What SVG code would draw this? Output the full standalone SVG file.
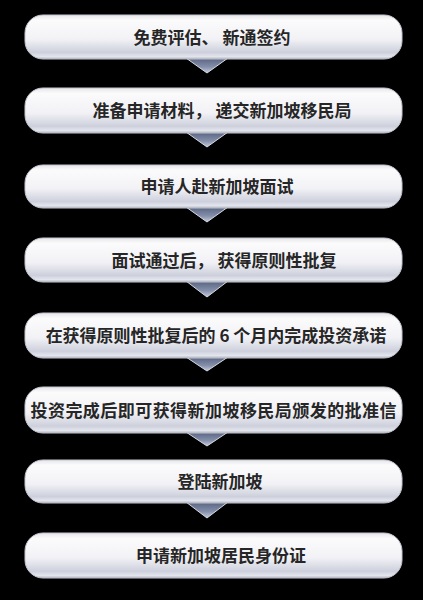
<svg xmlns="http://www.w3.org/2000/svg" width="423" height="600" viewBox="0 0 423 600">
<defs>
<linearGradient id="boxg" x1="0" y1="0" x2="0" y2="1">
<stop offset="0" stop-color="#e6e6ea"/>
<stop offset="0.12" stop-color="#fbfbfc"/>
<stop offset="0.55" stop-color="#f2f2f6"/>
<stop offset="0.85" stop-color="#cdd0dc"/>
<stop offset="0.95" stop-color="#e4e6ee"/>
<stop offset="1" stop-color="#a8abb8"/>
</linearGradient>
<linearGradient id="trig" x1="0" y1="0" x2="0" y2="1">
<stop offset="0" stop-color="#56627f"/>
<stop offset="0.6" stop-color="#8490ab"/>
<stop offset="1" stop-color="#c6ccda"/>
</linearGradient>
</defs>
<style>
.box{fill:url(#boxg);stroke:#c4c6d0;stroke-width:1}
.tri{fill:url(#trig);stroke:#d6dae4;stroke-width:1}
.t{font-family:"Noto Sans CJK SC","Noto Sans",sans-serif;font-size:17px;font-weight:bold;fill:#262626;text-anchor:middle}
</style>
<rect width="423" height="600" fill="#000"/>
<g id="connectors">
<polygon class="tri" points="186,58 228,58 207,73"/>
<polygon class="tri" points="186,132 228,132 207,147"/>
<polygon class="tri" points="186,207 228,207 207,222"/>
<polygon class="tri" points="186,281 228,281 207,297"/>
<polygon class="tri" points="186,357 228,357 207,371"/>
<polygon class="tri" points="186,432 228,432 207,446"/>
<polygon class="tri" points="186,502 228,502 207,518"/>
</g>
<g id="n1"><rect class="box" x="25" y="15" width="377" height="44" rx="18"/><text class="t" x="212" y="44">免费评估、 新通签约</text></g>
<g id="n2"><rect class="box" x="25" y="88" width="377" height="45" rx="18"/><text class="t" x="222" y="117">准备申请材料， 递交新加坡移民局</text></g>
<g id="n3"><rect class="box" x="25" y="165" width="377" height="43" rx="18"/><text class="t" x="217" y="193">申请人赴新加坡面试</text></g>
<g id="n4"><rect class="box" x="25" y="238" width="377" height="44" rx="18"/><text class="t" x="224" y="267">面试通过后， 获得原则性批复</text></g>
<g id="n5"><rect class="box" x="25" y="313" width="377" height="45" rx="18"/><text class="t" x="216" y="342">在获得原则性批复后的 6 个月内完成投资承诺</text></g>
<g id="n6"><rect class="box" x="25" y="387" width="377" height="46" rx="18"/><text class="t" x="213.5" y="417" textLength="366">投资完成后即可获得新加坡移民局颁发的批准信</text></g>
<g id="n7"><rect class="box" x="25" y="460" width="377" height="43" rx="18"/><text class="t" x="220" y="488">登陆新加坡</text></g>
<g id="n8"><rect class="box" x="25" y="533" width="377" height="45" rx="18"/><text class="t" x="221" y="562">申请新加坡居民身份证</text></g>
</svg>
